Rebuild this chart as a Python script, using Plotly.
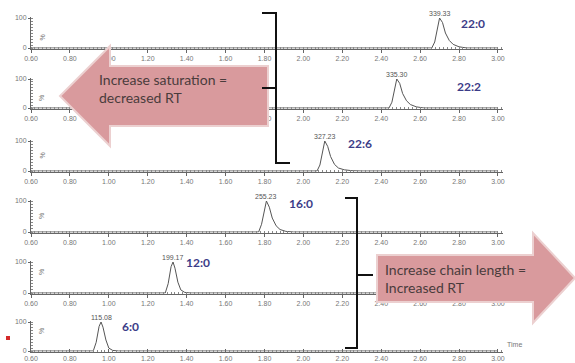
import plotly.graph_objects as go

W, H = 575, 363

# ---------------- data ----------------
lipid_names = ["22:0", "22:2", "22:6", "16:0", "12:0", "6:0"]
peak_mz = ["339.33", "335.30", "327.23", "255.23", "199.17", "115.08"]
apex_rt = [2.70, 2.48, 2.11, 1.81, 1.33, 0.96]

rt_22_0 = [0.60, 2.66, 2.675, 2.69, 2.70, 2.715, 2.73, 2.75, 2.77, 2.80, 2.84, 3.00]
int_22_0 = [0, 0, 20, 70, 100, 85, 50, 25, 12, 4, 0, 0]

rt_22_2 = [0.60, 2.44, 2.455, 2.47, 2.48, 2.495, 2.51, 2.53, 2.55, 2.58, 2.62, 3.00]
int_22_2 = [0, 0, 20, 70, 100, 85, 50, 25, 12, 4, 0, 0]

rt_22_6 = [0.60, 2.07, 2.085, 2.10, 2.11, 2.125, 2.14, 2.16, 2.18, 2.21, 2.25, 2.30, 3.00]
int_22_6 = [0, 0, 20, 70, 100, 82, 48, 22, 10, 4, 1, 0, 0]

rt_16_0 = [0.60, 1.77, 1.785, 1.80, 1.81, 1.825, 1.84, 1.86, 1.88, 1.91, 1.95, 3.00]
int_16_0 = [0, 0, 25, 75, 100, 80, 45, 20, 8, 2, 0, 0]

rt_12_0 = [0.60, 1.29, 1.305, 1.32, 1.33, 1.34, 1.355, 1.37, 1.39, 1.42, 3.00]
int_12_0 = [0, 0, 30, 85, 100, 80, 35, 10, 2, 0, 0]

rt_6_0 = [0.60, 0.92, 0.935, 0.95, 0.96, 0.97, 0.985, 1.00, 1.02, 1.05, 3.00]
int_6_0 = [0, 0, 30, 85, 100, 82, 38, 10, 2, 0, 0]

rts = [rt_22_0, rt_22_2, rt_22_6, rt_16_0, rt_12_0, rt_6_0]
ints = [int_22_0, int_22_2, int_22_6, int_16_0, int_12_0, int_6_0]

name_pos_rt = [2.87, 2.85, 2.29, 1.99, 1.46, 1.11]
name_pos_int = [83, 73, 93, 93, 100, 83]

x_tick_vals = [0.60, 0.80, 1.00, 1.20, 1.40, 1.60, 1.80, 2.00, 2.20, 2.40, 2.60, 2.80, 3.00]
x_tick_text = ["0.60", "0.80", "1.00", "1.20", "1.40", "1.60", "1.80",
               "2.00", "2.20", "2.40", "2.60", "2.80", "3.00"]

# ---------------- layout helpers ----------------
def px(x):
    return x / W

def py(y):
    return 1 - y / H

panel_top = [18, 79, 141, 201, 262, 322]
panel_base = [48, 108, 171, 232, 293, 351]
x_left, x_right = 31, 503

fig = go.Figure()
tick_font = dict(family="Liberation Sans", size=7, color="#777777")
annotations = []
shapes = []

for i in range(6):
    n = "" if i == 0 else str(i + 1)
    xa = "x" + n
    ya = "y" + n
    fig.add_trace(go.Scatter(x=rts[i], y=ints[i], mode="lines",
                             line=dict(color="#555555", width=1),
                             xaxis=xa, yaxis=ya, showlegend=False,
                             hoverinfo="skip"))
    scale = (panel_base[i] - panel_top[i]) / 100.0
    d0 = py(panel_base[i] + 2 * scale)
    d1 = py(panel_top[i] - 2 * scale)
    last = (i == 5)
    fig.update_layout(**{
        "xaxis" + n: dict(domain=[px(x_left), px(x_right)], range=[0.6, 3.026],
                          anchor=ya, showline=True, linecolor="#666666", linewidth=1,
                          tickvals=x_tick_vals, ticktext=x_tick_text,
                          ticks="inside" if last else "outside", ticklen=3,
                          tickcolor="#666666",
                          minor=dict(dtick=0.02, tick0=0.6, ticks="inside", ticklen=2,
                                     tickcolor="#888888"),
                          tickfont=tick_font, showgrid=False, zeroline=False,
                          automargin=False, fixedrange=True),
        "yaxis" + n: dict(domain=[d0, d1], range=[-2, 102], anchor=xa,
                          showline=True, linecolor="#666666", linewidth=1,
                          tickvals=[0, 100], ticktext=["0", "100"],
                          ticks="outside", ticklen=2, tickcolor="#666666",
                          minor=dict(dtick=10, ticks="inside", ticklen=2,
                                     tickcolor="#888888"),
                          tickfont=tick_font, showgrid=False, zeroline=False,
                          automargin=False, fixedrange=True),
    })
    # % label
    annotations.append(dict(x=px(x_left + 5), y=py((panel_top[i] + panel_base[i]) / 2),
                            xref="paper", yref="paper", text="%", textangle=-90,
                            showarrow=False, font=tick_font))
    # peak m/z label
    annotations.append(dict(x=apex_rt[i], y=100, xref=xa, yref=ya, text=peak_mz[i],
                            showarrow=False, yanchor="bottom", yshift=-1,
                            font=dict(family="Liberation Sans", size=7, color="#555555")))
    # lipid name
    annotations.append(dict(x=name_pos_rt[i], y=name_pos_int[i], xref=xa, yref=ya,
                            text=lipid_names[i], showarrow=False,
                            font=dict(family="Lato", size=12, color="#3c3c88",
                                      weight="bold")))

annotations.append(dict(x=px(505), y=py(350), xref="paper", yref="paper", text="Time",
                        showarrow=False, xanchor="left",
                        font=dict(family="Liberation Sans", size=7, color="#777777")))

def path(points, close=True):
    s = "M " + " L ".join(f"{px(x):.5f},{py(y):.5f}" for x, y in points)
    return s + (" Z" if close else "")

arrow_fill = "#d99a9d"
arrow_line = "#ecd0d0"
# left arrow
shapes.append(dict(type="path", xref="paper", yref="paper", layer="above",
                   path=path([(60, 96), (110, 46), (110, 66), (268, 66), (268, 126),
                              (110, 126), (110, 146)]),
                   fillcolor=arrow_fill, line=dict(color=arrow_line, width=2)))
# right arrow
shapes.append(dict(type="path", xref="paper", yref="paper", layer="above",
                   path=path([(377, 255), (533, 255), (533, 233), (575, 278),
                              (533, 323), (533, 302), (377, 302)]),
                   fillcolor=arrow_fill, line=dict(color=arrow_line, width=2)))

br = dict(color="#111111", width=2)
# upper bracket (pointing left)
shapes.append(dict(type="path", xref="paper", yref="paper", layer="above",
                   path=path([(262, 13), (276, 13), (276, 163), (290, 163)], close=False),
                   line=br))
shapes.append(dict(type="line", xref="paper", yref="paper", layer="above",
                   x0=px(262), y0=py(88), x1=px(276), y1=py(88), line=br))
# lower bracket (pointing right)
shapes.append(dict(type="path", xref="paper", yref="paper", layer="above",
                   path=path([(345, 198), (357, 198), (357, 348), (345, 348)], close=False),
                   line=br))
shapes.append(dict(type="line", xref="paper", yref="paper", layer="above",
                   x0=px(357), y0=py(275), x1=px(373), y1=py(275), line=br))
# red square marker
shapes.append(dict(type="rect", xref="paper", yref="paper", layer="above",
                   x0=px(6), y0=py(336), x1=px(10), y1=py(340),
                   fillcolor="#d42a2a", line=dict(width=0)))

arrow_font = dict(family="Lato", size=14, color="#4a3c3c")
annotations.append(dict(x=px(97), y=py(88), xref="paper", yref="paper",
                        text="Increase saturation =<br>decreased RT", align="left",
                        xanchor="left", yanchor="middle", showarrow=False,
                        font=arrow_font))
annotations.append(dict(x=px(383), y=py(278), xref="paper", yref="paper",
                        text="Increase chain length =<br>Increased RT", align="left",
                        xanchor="left", yanchor="middle", showarrow=False,
                        font=arrow_font))

fig.update_layout(width=W, height=H, margin=dict(l=0, r=0, t=0, b=0),
                  paper_bgcolor="white", plot_bgcolor="white",
                  annotations=annotations, shapes=shapes)

fig.write_html("out.html",
               config={"displayModeBar": False, "staticPlot": True},
               post_script="document.body.style.margin='0px';"
                           "document.body.style.overflow='hidden';")
